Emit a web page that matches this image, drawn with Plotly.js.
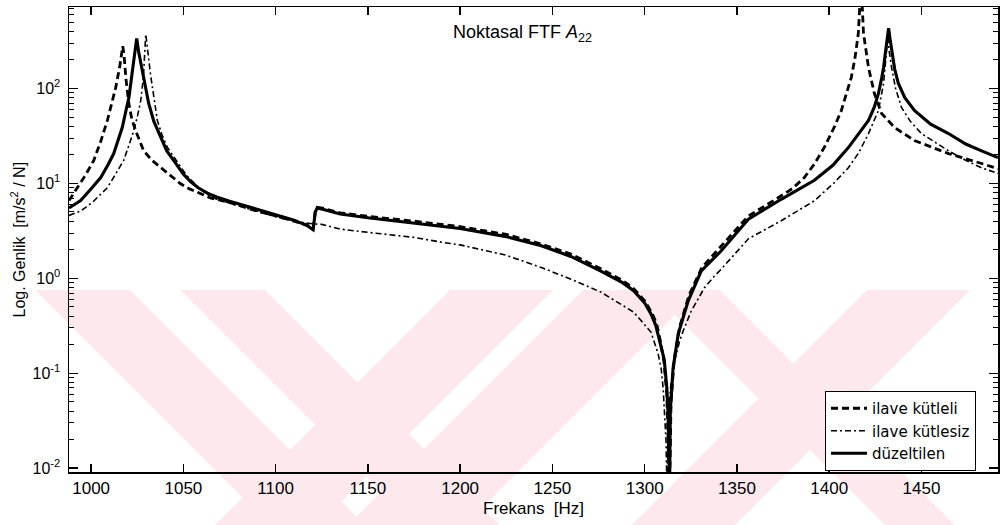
<!DOCTYPE html>
<html>
<head>
<meta charset="utf-8">
<script src="https://cdn.plot.ly/plotly-3.0.1.min.js"></script>
<style>html,body{margin:0;padding:0;background:#fff;}#chart{width:1004px;height:525px;}</style>
</head>
<body>
<div id="chart"></div>
<script>
// ---- data ----
var seriesNames = ["ilave kütleli", "ilave kütlesiz", "düzeltilen"];

var fKutleli = [988, 992.5, 997, 1001.4, 1005, 1008.8, 1011, 1013.3, 1015.5, 1016.4, 1017.1, 1017.8, 1018.8, 1020.3, 1022, 1024.1, 1028.5, 1033, 1037.7, 1043, 1048.5, 1053, 1057.8, 1065, 1075, 1090, 1100, 1110, 1117, 1120.3, 1121.5, 1122.5, 1126, 1135, 1150, 1175, 1200, 1225, 1244, 1260, 1276, 1288, 1294, 1300, 1304, 1306.5, 1308.5, 1310.5, 1312, 1313.0, 1313.5, 1314.3, 1316, 1319, 1324, 1331, 1341, 1356, 1374, 1380, 1386.5, 1392, 1397.4, 1403, 1406.6, 1410, 1412, 1414, 1415.8, 1416.6, 1417.2, 1417.9, 1418.6, 1421.3, 1424.5, 1428.4, 1435.5, 1446.2, 1464.7, 1482.6, 1491.5];
var aKutleli = [6.6, 9.0, 12.3, 17.4, 27, 46, 66, 102, 170, 240, 278, 230, 130, 72, 48, 36, 22, 17.5, 14.7, 12, 9.9, 8.8, 8.0, 7.0, 6.3, 5.1, 4.55, 4.0, 3.65, 3.35, 5.1, 5.6, 5.45, 4.9, 4.5, 4.0, 3.5, 2.9, 2.3, 1.8, 1.27, 0.95, 0.78, 0.58, 0.43, 0.33, 0.22, 0.13, 0.06, 0.012, 0.006, 0.05, 0.14, 0.31, 0.66, 1.3, 2.15, 4.5, 7.4, 8.8, 11.5, 16, 24, 40, 58.6, 95, 131, 210, 381, 750, 1500, 750, 381, 167, 88.5, 54.5, 38.7, 28.3, 20.6, 16.2, 14.3];

var fKutlesiz = [988, 994.3, 1001, 1008.8, 1013, 1017.6, 1021, 1023.1, 1025.2, 1026.9, 1028.3, 1029.0, 1029.6, 1030.2, 1030.7, 1032, 1033.2, 1035.9, 1038.5, 1041.3, 1048.6, 1052, 1057.8, 1063, 1068, 1075, 1090, 1100, 1110, 1120, 1125, 1135, 1150, 1175, 1190, 1200, 1225, 1244, 1260, 1276, 1288, 1294, 1298, 1303.5, 1307.3, 1309, 1310, 1311, 1311.6, 1312, 1312.4, 1313, 1314, 1316, 1319, 1320.9, 1325.2, 1332.3, 1337.7, 1341.5, 1356.2, 1374, 1392, 1402.8, 1410.4, 1416, 1421.3, 1426.7, 1429.5, 1430.5, 1431.1, 1431.7, 1432.5, 1433.8, 1436, 1439.2, 1444, 1450, 1464.7, 1474, 1482.6, 1491.5];
var aKutlesiz = [4.6, 5.1, 6.4, 9.0, 12.3, 17.4, 27, 36, 52, 74.7, 130, 220, 372, 300, 234, 150, 103, 46, 32, 24, 14.8, 12, 9.2, 7.6, 6.8, 6.2, 5.0, 4.45, 4.0, 3.75, 3.7, 3.3, 3.05, 2.7, 2.4, 2.25, 1.75, 1.3, 0.98, 0.72, 0.52, 0.44, 0.36, 0.27, 0.16, 0.11, 0.07, 0.035, 0.019, 0.007, 0.02, 0.04, 0.07, 0.13, 0.22, 0.28, 0.45, 0.79, 1.05, 1.25, 2.61, 4.04, 6.56, 10.2, 14.6, 21, 33.5, 58.6, 113, 180, 252, 340, 250, 167, 100, 63, 45, 33.5, 22, 17.5, 14.6, 12.7];

var fDuzeltilen = [988, 994.3, 1000, 1005.2, 1009, 1012.2, 1015, 1016.9, 1019, 1020.5, 1022.4, 1023.6, 1024.7, 1025.8, 1027.8, 1029.5, 1031.2, 1034, 1037.7, 1041, 1044.8, 1050, 1054, 1058, 1063, 1068, 1075, 1090, 1100, 1110, 1117, 1120.3, 1121.5, 1122.5, 1126, 1135, 1150, 1175, 1190, 1200, 1225, 1244, 1260, 1276, 1288, 1294, 1300, 1303.5, 1306, 1308, 1310.6, 1312, 1312.7, 1313.2, 1313.5, 1313.9, 1315.4, 1318.2, 1323.6, 1330.7, 1337.7, 1341.5, 1356.2, 1374, 1392, 1402, 1410.4, 1416, 1421.3, 1424.5, 1426.7, 1428.5, 1429.5, 1430.5, 1431.2, 1432.2, 1433.0, 1433.8, 1435.5, 1437.5, 1441, 1446.2, 1455, 1464.7, 1474, 1482.6, 1491.5];
var aDuzeltilen = [5.5, 6.6, 8.8, 11.5, 15.5, 20.5, 30, 39, 60, 81, 155, 240, 337, 240, 155, 100, 69.5, 45, 30.4, 22, 17.4, 12.5, 10.4, 9.0, 7.9, 7.2, 6.5, 5.3, 4.7, 4.1, 3.6, 3.25, 5.0, 5.5, 5.3, 4.75, 4.35, 3.85, 3.55, 3.35, 2.75, 2.2, 1.7, 1.2, 0.9, 0.74, 0.55, 0.42, 0.32, 0.22, 0.14, 0.07, 0.037, 0.012, 0.006, 0.04, 0.113, 0.26, 0.58, 1.2, 1.65, 1.95, 4.2, 6.8, 10.8, 15.5, 23.8, 33, 46, 64, 88.5, 130, 167, 240, 321, 431, 330, 252, 160, 113, 80, 58.6, 42, 33.5, 26, 22, 18.7];

var xTickVals = [1000, 1050, 1100, 1150, 1200, 1250, 1300, 1350, 1400, 1450];
var yTickVals = [0.01, 0.1, 1, 10, 100];
var yTickText = ["10<sup>-2</sup>", "10<sup>-1</sup>", "10<sup>0</sup>", "10<sup>1</sup>", "10<sup>2</sup>"];

// ---- layout helpers ----
var M = {l: 69, r: 6, t: 7, b: 53};
var W = 1004, H = 525;
var PW = W - M.l - M.r, PH = H - M.t - M.b;
function px2x(px) { return (px - M.l) / PW; }
function py2y(py) { return (H - M.b - py) / PH; }

var minorVals = [];
[0.001, 0.01, 0.1, 1, 10, 100].forEach(function (d) {
  for (var k = 2; k <= 9; k++) minorVals.push(d * k);
});

// faint watermark stripes (pixel geometry -> paper)
var stripes = [
  [35, 130, 1], [180, 265, 1], [450, 553, -1], [583, 700, -1], [650, 720, 1], [867, 970, -1]
];
var yTop = 290, yBot = 525, dy = yBot - yTop;
var shapes = stripes.map(function (s) {
  var pts = [[s[0], yTop], [s[1], yTop], [s[1] + s[2] * dy, yBot], [s[0] + s[2] * dy, yBot]];
  var d = pts.map(function (p, i) {
    return (i ? "L" : "M") + px2x(p[0]).toFixed(4) + "," + py2y(p[1]).toFixed(4);
  }).join(" ") + " Z";
  return {type: "path", xref: "paper", yref: "paper", path: d, fillcolor: "#fde9ed",
          line: {width: 0}, layer: "below"};
});

var traces = [
  {x: fKutleli, y: aKutleli, name: seriesNames[0], mode: "lines",
   line: {color: "#000", width: 2.8, dash: "7px,4px"}},
  {x: fKutlesiz, y: aKutlesiz, name: seriesNames[1], mode: "lines",
   line: {color: "#000", width: 1.6, dash: "6px,3px,2px,3px"}},
  {x: fDuzeltilen, y: aDuzeltilen, name: seriesNames[2], mode: "lines",
   line: {color: "#000", width: 3.1}}
];

var font = {family: "Liberation Sans, Arial, sans-serif", color: "#000"};
function F(sz) { return Object.assign({}, font, {size: sz}); }

var layout = {
  width: W, height: H,
  margin: M,
  paper_bgcolor: "#fff",
  plot_bgcolor: "rgba(0,0,0,0)",
  font: F(16),
  showlegend: true,
  xaxis: {
    range: [988, 1491.5], tickmode: "array", tickvals: xTickVals,
    ticks: "inside", ticklen: 8, tickwidth: 1.5, tickcolor: "#000",
    showline: true, linecolor: "#000", linewidth: 1.5, mirror: "ticks",
    showgrid: false, zeroline: false, tickfont: F(17), ticklabelstandoff: 0
  },
  yaxis: {
    type: "log", range: [-2.04, 2.858], tickmode: "array",
    tickvals: yTickVals, ticktext: yTickText,
    ticks: "inside", ticklen: 9, tickwidth: 1.5, tickcolor: "#000",
    showline: true, linecolor: "#000", linewidth: 1.5, mirror: "ticks",
    showgrid: false, zeroline: false, tickfont: F(16), ticklabelstandoff: 4,
    minor: {tickmode: "array", tickvals: minorVals, ticks: "inside", ticklen: 5,
            tickwidth: 1, tickcolor: "#000", showgrid: false}
  },
  legend: {
    x: px2x(825), y: py2y(391), xanchor: "left", yanchor: "top",
    bgcolor: "#fff", bordercolor: "#000", borderwidth: 1,
    font: {family: "DejaVu Sans, sans-serif", size: 15, color: "#000"},
    tracegroupgap: 0, itemwidth: 36
  },
  shapes: shapes,
  annotations: [
    {text: "Noktasal FTF <i>A</i><sub>22</sub>", xref: "paper", yref: "paper",
     x: px2x(522), y: py2y(33), xanchor: "center", yanchor: "middle",
     showarrow: false, font: F(18)},
    {text: "Log. Genlik&nbsp;&nbsp;[m/s<sup>2</sup> / N]", xref: "paper", yref: "paper",
     x: px2x(18), y: 0.5, xanchor: "center", yanchor: "middle", textangle: -90,
     showarrow: false, font: F(16)},
    {text: "Frekans&nbsp;&nbsp;[Hz]", xref: "paper", yref: "paper",
     x: px2x(533), y: py2y(508), xanchor: "center", yanchor: "middle",
     showarrow: false, font: F(17)}
  ]
};

Plotly.newPlot("chart", traces, layout, {displayModeBar: false, staticPlot: true});
</script>
</body>
</html>
